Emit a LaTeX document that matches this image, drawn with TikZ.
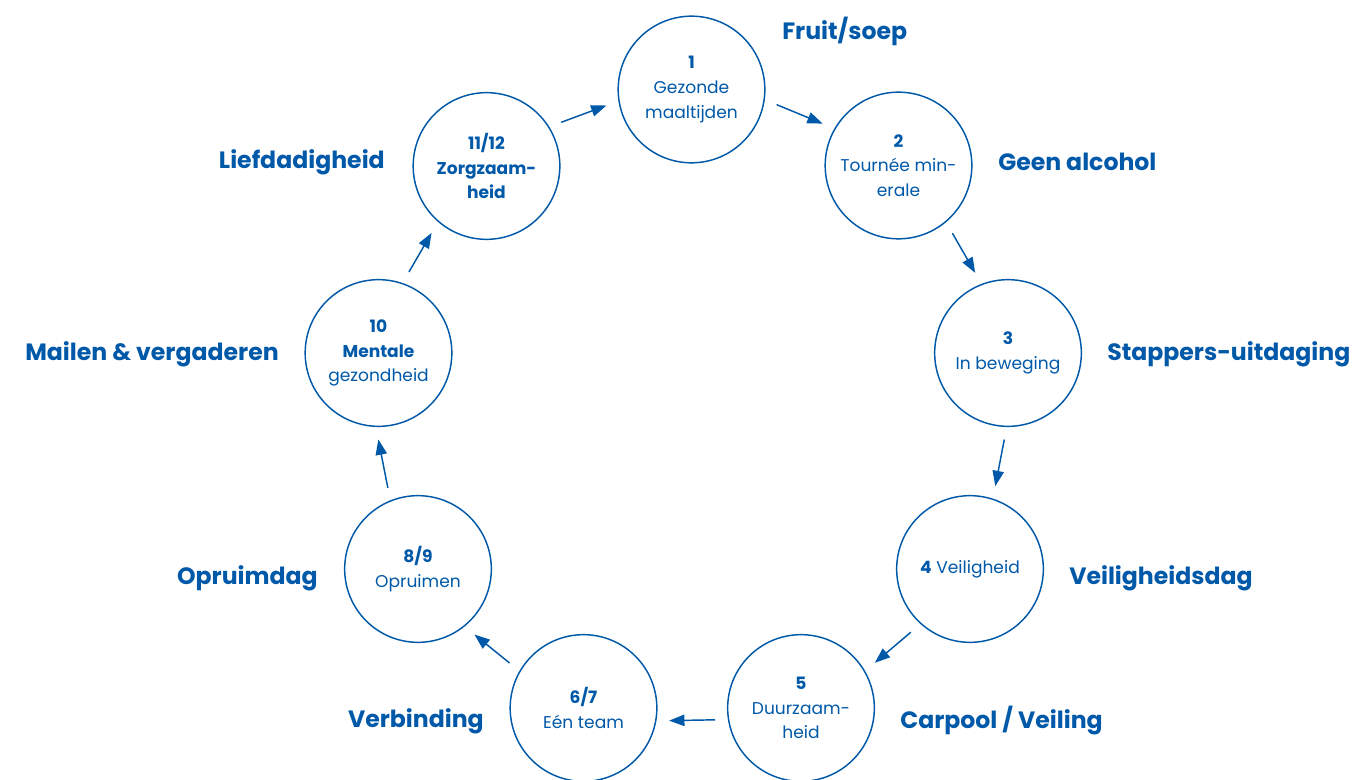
\documentclass[tikz,border=0pt]{standalone}
\usepackage{fontspec}
\setmainfont{Poppins}
\usetikzlibrary{arrows.meta}
\definecolor{campagneblauw}{RGB}{0,88,168}
\begin{document}
\begin{tikzpicture}[x=0.75pt,y=-0.75pt,
		rondje/.style={circle,draw=campagneblauw,line width=1.1pt,minimum size=110pt,inner sep=0pt,align=center,text=campagneblauw,font=\fontsize{12.8}{18.5}\selectfont},
		thema/.style={text=campagneblauw,font=\fontsize{17.7}{22}\selectfont\bfseries,inner sep=0pt},
		pijl/.style={draw=campagneblauw,line width=1.1pt,-{Triangle[length=11.5pt,width=8.5pt]},shorten <=9.5pt,shorten >=9.5pt}]
				\useasboundingbox (0,0) rectangle (1352,780);
				\node[rondje] (stap1) at (691.5,89.5) {\textbf{1}\\Gezonde\\maaltijden};
				\node[rondje] (stap2) at (898.5,165.5) {\textbf{2}\\Tournée min-\\erale};
				\node[rondje] (stap3) at (1008,353) {\textbf{3}\\In beweging};
				\node[rondje] (stap4) at (970,569) {\textbf{4} Veiligheid};
				\node[rondje] (stap5) at (801,708) {\textbf{5}\\Duurzaam-\\heid};
				\node[rondje] (stap6) at (583.5,708) {\textbf{6/7}\\Eén team};
				\node[rondje] (stap8) at (418,569) {\textbf{8/9}\\Opruimen};
				\node[rondje] (stap10) at (378.5,353) {\textbf{10}\\\textbf{Mentale}\\gezondheid};
				\node[rondje] (stap11) at (486.5,166) {\textbf{11/12}\\\textbf{Zorgzaam-}\\\textbf{heid}};
				\node[thema,anchor=west] (thema1) at (782,31) {Fruit/soep};
				\node[thema,anchor=west] (thema2) at (998,162) {Geen alcohol};
				\node[thema,anchor=west] (thema3) at (1107,354) {Stappers-uitdaging};
				\node[thema,anchor=west] (thema4) at (1069,578) {Veiligheidsdag};
				\node[thema,anchor=west] (thema5) at (900,721) {Carpool / Veiling};
				\node[thema,anchor=east] (thema6) at (484,721) {Verbinding};
				\node[thema,anchor=east] (thema8) at (318,578) {Opruimdag};
				\node[thema,anchor=east] (thema10) at (279,354) {Mailen \& vergaderen};
				\node[thema,anchor=east] (thema11) at (385,162) {Liefdadigheid};
				\foreach \van/\naar in {stap11.32/stap1.189,stap1.-8/stap2.150,stap2.-50/stap3.111,stap3.-91/stap4.72,stap4.-132/stap5.30,stap5.-171/stap6.-10,stap6.150/stap8.-51,stap8.112/stap10.-92,stap10.71/stap11.-131}
					\draw[pijl] (\van) -- (\naar);
			\end{tikzpicture}
\end{document}
